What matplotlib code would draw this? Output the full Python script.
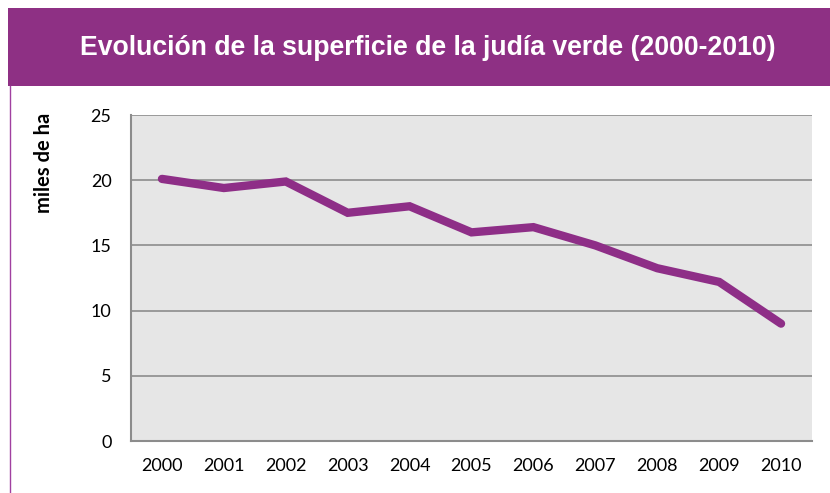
import matplotlib
matplotlib.use("Agg")
import matplotlib.pyplot as plt
from matplotlib.patches import Rectangle
from matplotlib.lines import Line2D

years = ["2000", "2001", "2002", "2003", "2004", "2005", "2006", "2007", "2008", "2009", "2010"]
superficie = [20.1, 19.4, 19.9, 17.5, 18.0, 16.0, 16.4, 15.0, 13.25, 12.2, 9.0]
yticks = [0, 5, 10, 15, 20, 25]

W, H = 830, 493
fig = plt.figure(figsize=(W / 100, H / 100), dpi=100)
fig.patch.set_facecolor("white")

purple = "#8E3084"
# title bar
fig.patches.append(Rectangle((8 / W, 1 - 86 / H), 1 - 8 / W, 78 / H, transform=fig.transFigure,
                             facecolor=purple, edgecolor="none", zorder=0))
fig.lines.append(Line2D([9.5 / W, 9.5 / W], [0, 1 - 86 / H], transform=fig.transFigure,
                        color="#A040A0", lw=1.0))
fig.text(428 / W, 1 - 48 / H, "Evolución de la superficie de la judía verde (2000-2010)",
         color="white", fontsize=19.2, fontweight="bold", family="Liberation Sans",
         ha="center", va="center")

ax = fig.add_axes([131 / W, 52 / H, 681 / W, 326 / H])
ax.set_facecolor("#E6E6E6")
x = list(range(len(years)))
ax.plot(x, superficie, color="#8E2E87", lw=6, solid_joinstyle="miter", solid_capstyle="round", zorder=3)
ax.set_xlim(-0.5, len(years) - 0.5)
ax.set_ylim(0, 25)
ax.set_yticks(yticks)
ax.set_xticks(x)
ax.set_xticklabels(years)
ax.yaxis.grid(True, color="#8C8C8C", lw=1.2)
ax.set_axisbelow(True)
for s in ["top", "right"]:
    ax.spines[s].set_visible(False)
for s in ["left", "bottom"]:
    ax.spines[s].set_color("#8C8C8C")
    ax.spines[s].set_linewidth(1.5)
ax.tick_params(length=0, labelsize=13, colors="black")
ax.tick_params(axis="y", pad=14)
ax.tick_params(axis="x", pad=12)
for lab in ax.get_xticklabels() + ax.get_yticklabels():
    lab.set_family("Lato")
fig.text(44 / W, 1 - 163 / H, "miles de ha", rotation=90, fontsize=14.5, fontweight="bold",
         family="Lato", ha="center", va="center")

fig.savefig("out.png", dpi=100)
